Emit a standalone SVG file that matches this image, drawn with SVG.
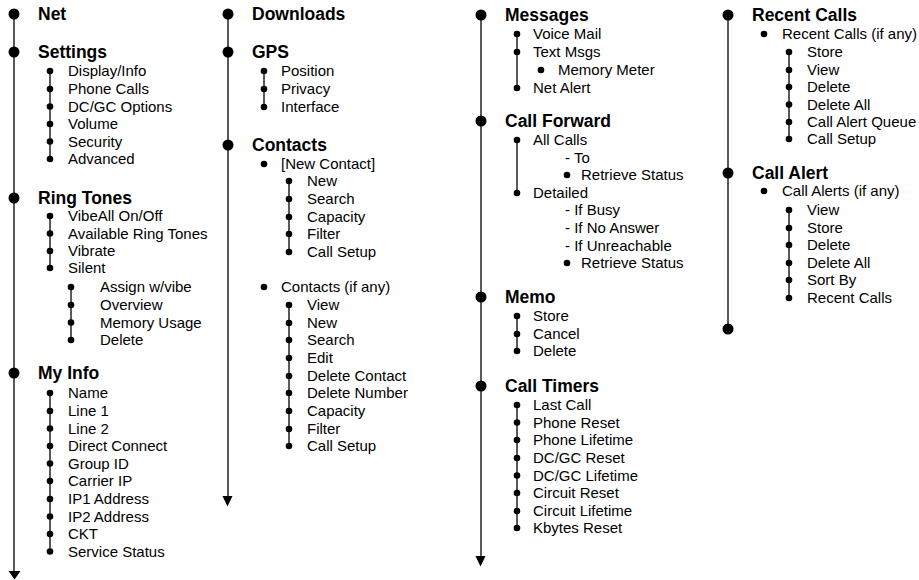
<svg xmlns="http://www.w3.org/2000/svg" width="919" height="580" viewBox="0 0 919 580">
<style>
.h{font-family:"Liberation Sans",Arial,sans-serif;font-weight:bold;font-size:17.5px;fill:#000}
.t{font-family:"Liberation Sans",Arial,sans-serif;font-size:15px;fill:#000}
.ln{stroke:#222;stroke-width:1.5;fill:none}
.bd{fill:#000}
.sd{fill:#000}
</style>
<defs>
<marker id="arr" viewBox="0 0 12 10" refX="6" refY="0" markerWidth="12" markerHeight="10" markerUnits="userSpaceOnUse" orient="auto-start-reverse"><path d="M0,0 L12,0 L6,9 Z" fill="#000"/></marker>
</defs>
<g id="connectors">
<path class="ln" d="M14,14 V572"/>
<path d="M8.5,571 L20.5,571 L14.5,579.5 Z" fill="#000"/>
<path class="ln" d="M228,14 V497"/>
<path d="M222.5,496 L232.5,496 L227.5,506.5 Z" fill="#000"/>
<path class="ln" d="M481,15 V557"/>
<path d="M475.5,556 L485.5,556 L480.5,566.5 Z" fill="#000"/>
<path class="ln" d="M728,15 V329"/>
<path class="ln" d="M50,71 V159"/>
<path class="ln" d="M50,216 V268"/>
<path class="ln" d="M71,287 V340"/>
<path class="ln" d="M50,393 V551"/>
<path class="ln" d="M264,71 V107"/>
<path class="ln" d="M289,181 V252"/>
<path class="ln" d="M289,305 V446"/>
<path class="ln" d="M517,34 V88"/>
<path class="ln" d="M517,140 V193"/>
<path class="ln" d="M517,316 V351"/>
<path class="ln" d="M517,405 V528"/>
<path class="ln" d="M789,52 V139"/>
<path class="ln" d="M789,210 V298"/>
</g>
<g id="net"><circle class="bd" cx="14" cy="14" r="5.5"/><text class="h" x="38" y="20">Net</text></g>
<g id="settings"><circle class="bd" cx="14" cy="52" r="5.5"/><text class="h" x="38" y="58">Settings</text>
<circle class="sd" cx="50" cy="71" r="3.3"/><text class="t" x="68" y="76">Display/Info</text>
<circle class="sd" cx="50" cy="89" r="3.3"/><text class="t" x="68" y="94">Phone Calls</text>
<circle class="sd" cx="50" cy="106.5" r="3.3"/><text class="t" x="68" y="111.5">DC/GC Options</text>
<circle class="sd" cx="50" cy="124" r="3.3"/><text class="t" x="68" y="129">Volume</text>
<circle class="sd" cx="50" cy="141.5" r="3.3"/><text class="t" x="68" y="146.5">Security</text>
<circle class="sd" cx="50" cy="159" r="3.3"/><text class="t" x="68" y="164">Advanced</text>
</g>
<g id="ringtones"><circle class="bd" cx="14" cy="198" r="5.5"/><text class="h" x="38" y="204">Ring Tones</text>
<circle class="sd" cx="50" cy="216" r="3.3"/><text class="t" x="68" y="221">VibeAll On/Off</text>
<circle class="sd" cx="50" cy="233.5" r="3.3"/><text class="t" x="68" y="238.5">Available Ring Tones</text>
<circle class="sd" cx="50" cy="251" r="3.3"/><text class="t" x="68" y="256">Vibrate</text>
<circle class="sd" cx="50" cy="268" r="3.3"/><text class="t" x="68" y="273">Silent</text>
<circle class="sd" cx="71" cy="287" r="3.3"/><text class="t" x="100" y="292">Assign w/vibe</text>
<circle class="sd" cx="71" cy="305" r="3.3"/><text class="t" x="100" y="310">Overview</text>
<circle class="sd" cx="71" cy="322.5" r="3.3"/><text class="t" x="100" y="327.5">Memory Usage</text>
<circle class="sd" cx="71" cy="340" r="3.3"/><text class="t" x="100" y="345">Delete</text>
</g>
<g id="myinfo"><circle class="bd" cx="14" cy="373" r="5.5"/><text class="h" x="38" y="379">My Info</text>
<circle class="sd" cx="50" cy="393" r="3.3"/><text class="t" x="68" y="398">Name</text>
<circle class="sd" cx="50" cy="411" r="3.3"/><text class="t" x="68" y="416">Line 1</text>
<circle class="sd" cx="50" cy="428.5" r="3.3"/><text class="t" x="68" y="433.5">Line 2</text>
<circle class="sd" cx="50" cy="446" r="3.3"/><text class="t" x="68" y="451">Direct Connect</text>
<circle class="sd" cx="50" cy="463.5" r="3.3"/><text class="t" x="68" y="468.5">Group ID</text>
<circle class="sd" cx="50" cy="481" r="3.3"/><text class="t" x="68" y="486">Carrier IP</text>
<circle class="sd" cx="50" cy="499" r="3.3"/><text class="t" x="68" y="504">IP1 Address</text>
<circle class="sd" cx="50" cy="516.5" r="3.3"/><text class="t" x="68" y="521.5">IP2 Address</text>
<circle class="sd" cx="50" cy="534" r="3.3"/><text class="t" x="68" y="539">CKT</text>
<circle class="sd" cx="50" cy="551.5" r="3.3"/><text class="t" x="68" y="556.5">Service Status</text>
</g>
<g id="downloads"><circle class="bd" cx="228" cy="14" r="5.5"/><text class="h" x="252" y="20">Downloads</text></g>
<g id="gps"><circle class="bd" cx="228" cy="52" r="5.5"/><text class="h" x="252" y="58">GPS</text>
<circle class="sd" cx="264" cy="71" r="3.3"/><text class="t" x="281" y="76">Position</text>
<circle class="sd" cx="264" cy="89" r="3.3"/><text class="t" x="281" y="94">Privacy</text>
<circle class="sd" cx="264" cy="107" r="3.3"/><text class="t" x="281" y="112">Interface</text>
</g>
<g id="contacts"><circle class="bd" cx="228" cy="145" r="5.5"/><text class="h" x="252" y="151">Contacts</text>
<circle class="sd" cx="264" cy="164" r="3.3"/><text class="t" x="281" y="169">[New Contact]</text>
<circle class="sd" cx="289" cy="181" r="3.3"/><text class="t" x="307" y="186">New</text>
<circle class="sd" cx="289" cy="199" r="3.3"/><text class="t" x="307" y="204">Search</text>
<circle class="sd" cx="289" cy="217" r="3.3"/><text class="t" x="307" y="222">Capacity</text>
<circle class="sd" cx="289" cy="234" r="3.3"/><text class="t" x="307" y="239">Filter</text>
<circle class="sd" cx="289" cy="252" r="3.3"/><text class="t" x="307" y="257">Call Setup</text>
<circle class="sd" cx="264" cy="287" r="3.3"/><text class="t" x="281" y="292">Contacts (if any)</text>
<circle class="sd" cx="289" cy="305" r="3.3"/><text class="t" x="307" y="310">View</text>
<circle class="sd" cx="289" cy="323" r="3.3"/><text class="t" x="307" y="328">New</text>
<circle class="sd" cx="289" cy="340" r="3.3"/><text class="t" x="307" y="345">Search</text>
<circle class="sd" cx="289" cy="358" r="3.3"/><text class="t" x="307" y="363">Edit</text>
<circle class="sd" cx="289" cy="376" r="3.3"/><text class="t" x="307" y="381">Delete Contact</text>
<circle class="sd" cx="289" cy="393" r="3.3"/><text class="t" x="307" y="398">Delete Number</text>
<circle class="sd" cx="289" cy="411" r="3.3"/><text class="t" x="307" y="416">Capacity</text>
<circle class="sd" cx="289" cy="429" r="3.3"/><text class="t" x="307" y="434">Filter</text>
<circle class="sd" cx="289" cy="446" r="3.3"/><text class="t" x="307" y="451">Call Setup</text>
</g>
<g id="messages"><circle class="bd" cx="481" cy="15" r="5.5"/><text class="h" x="505" y="21">Messages</text>
<circle class="sd" cx="517" cy="34" r="3.3"/><text class="t" x="533" y="39">Voice Mail</text>
<circle class="sd" cx="517" cy="52" r="3.3"/><text class="t" x="533" y="57">Text Msgs</text>
<circle class="sd" cx="541" cy="70" r="3.3"/><text class="t" x="558" y="75">Memory Meter</text>
<circle class="sd" cx="517" cy="88" r="3.3"/><text class="t" x="533" y="93">Net Alert</text>
</g>
<g id="callforward"><circle class="bd" cx="481" cy="121" r="5.5"/><text class="h" x="505" y="127">Call Forward</text>
<circle class="sd" cx="517" cy="140" r="3.3"/><text class="t" x="533" y="145">All Calls</text>
<text class="t" x="565" y="163">- To</text>
<circle class="sd" cx="567" cy="175" r="3.3"/><text class="t" x="581" y="180">Retrieve Status</text>
<circle class="sd" cx="517" cy="193" r="3.3"/><text class="t" x="533" y="198">Detailed</text>
<text class="t" x="565" y="215">- If Busy</text>
<text class="t" x="565" y="233">- If No Answer</text>
<text class="t" x="565" y="251">- If Unreachable</text>
<circle class="sd" cx="567" cy="263" r="3.3"/><text class="t" x="581" y="268">Retrieve Status</text>
</g>
<g id="memo"><circle class="bd" cx="481" cy="297" r="5.5"/><text class="h" x="505" y="303">Memo</text>
<circle class="sd" cx="517" cy="316" r="3.3"/><text class="t" x="533" y="321">Store</text>
<circle class="sd" cx="517" cy="334" r="3.3"/><text class="t" x="533" y="339">Cancel</text>
<circle class="sd" cx="517" cy="351" r="3.3"/><text class="t" x="533" y="356">Delete</text>
</g>
<g id="calltimers"><circle class="bd" cx="481" cy="386" r="5.5"/><text class="h" x="505" y="392">Call Timers</text>
<circle class="sd" cx="517" cy="405" r="3.3"/><text class="t" x="533" y="410">Last Call</text>
<circle class="sd" cx="517" cy="422.5" r="3.3"/><text class="t" x="533" y="427.5">Phone Reset</text>
<circle class="sd" cx="517" cy="440" r="3.3"/><text class="t" x="533" y="445">Phone Lifetime</text>
<circle class="sd" cx="517" cy="458" r="3.3"/><text class="t" x="533" y="463">DC/GC Reset</text>
<circle class="sd" cx="517" cy="475.5" r="3.3"/><text class="t" x="533" y="480.5">DC/GC Lifetime</text>
<circle class="sd" cx="517" cy="493" r="3.3"/><text class="t" x="533" y="498">Circuit Reset</text>
<circle class="sd" cx="517" cy="511" r="3.3"/><text class="t" x="533" y="516">Circuit Lifetime</text>
<circle class="sd" cx="517" cy="528" r="3.3"/><text class="t" x="533" y="533">Kbytes Reset</text>
</g>
<g id="recentcalls"><circle class="bd" cx="728" cy="15" r="5.5"/><text class="h" x="752" y="21">Recent Calls</text>
<circle class="sd" cx="764" cy="34" r="3.3"/><text class="t" x="782" y="39">Recent Calls (if any)</text>
<circle class="sd" cx="789" cy="52" r="3.3"/><text class="t" x="807" y="57">Store</text>
<circle class="sd" cx="789" cy="70" r="3.3"/><text class="t" x="807" y="75">View</text>
<circle class="sd" cx="789" cy="87" r="3.3"/><text class="t" x="807" y="92">Delete</text>
<circle class="sd" cx="789" cy="104.5" r="3.3"/><text class="t" x="807" y="109.5">Delete All</text>
<circle class="sd" cx="789" cy="122" r="3.3"/><text class="t" x="807" y="127">Call Alert Queue</text>
<circle class="sd" cx="789" cy="139" r="3.3"/><text class="t" x="807" y="144">Call Setup</text>
</g>
<g id="callalert"><circle class="bd" cx="728" cy="173" r="5.5"/><text class="h" x="752" y="179">Call Alert</text>
<circle class="sd" cx="764" cy="191" r="3.3"/><text class="t" x="782" y="196">Call Alerts (if any)</text>
<circle class="sd" cx="789" cy="210" r="3.3"/><text class="t" x="807" y="215">View</text>
<circle class="sd" cx="789" cy="228" r="3.3"/><text class="t" x="807" y="233">Store</text>
<circle class="sd" cx="789" cy="245" r="3.3"/><text class="t" x="807" y="250">Delete</text>
<circle class="sd" cx="789" cy="263" r="3.3"/><text class="t" x="807" y="268">Delete All</text>
<circle class="sd" cx="789" cy="280" r="3.3"/><text class="t" x="807" y="285">Sort By</text>
<circle class="sd" cx="789" cy="298" r="3.3"/><text class="t" x="807" y="303">Recent Calls</text>
</g>
<g id="end"><circle class="bd" cx="728" cy="329" r="5.5"/></g>
</svg>
